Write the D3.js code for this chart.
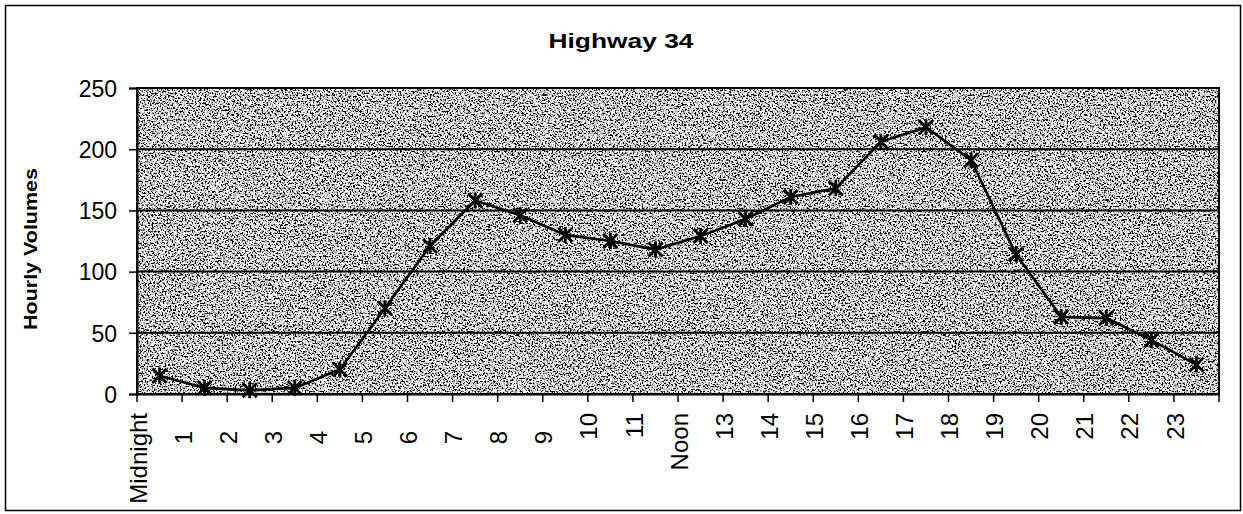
<!DOCTYPE html>
<html>
<head>
<meta charset="utf-8">
<script src="https://cdn.jsdelivr.net/npm/d3@7"></script>
<style>
  body { margin: 0; background: #fff; }
  text { font-family: "Liberation Sans", Arial, sans-serif; fill: #000; }
</style>
</head>
<body>
<div id="chart"></div>
<script>

// hour labels along the x axis
var hours = ["Midnight", "1", "2", "3", "4", "5", "6", "7", "8", "9", "10", "11",
             "Noon", "13", "14", "15", "16", "17", "18", "19", "20", "21", "22", "23"];

// hourly volumes
var volumes = [15, 5, 3, 5, 20, 70, 121, 158, 146, 130, 125, 118,
               129, 143, 161, 168, 206, 218, 191, 114, 63, 62, 44, 24];

var yTicks = [0, 50, 100, 150, 200, 250];

var chartTitle = "Highway 34";
var yTitle = "Hourly Volumes";


var W = 1243, H = 514;
var margin = { top: 88, right: 24, bottom: 120, left: 137 };
var width = W - margin.left - margin.right,
    height = H - margin.top - margin.bottom;

var svg = d3.select("#chart").append("svg")
    .attr("width", W)
    .attr("height", H);

// noisy grey fill like the scanned plot area
var defs = svg.append("defs");
var filt = defs.append("filter")
    .attr("id", "grain")
    .attr("x", 0).attr("y", 0).attr("width", 1).attr("height", 1);
filt.append("feTurbulence")
    .attr("type", "fractalNoise")
    .attr("baseFrequency", 0.6)
    .attr("numOctaves", 3)
    .attr("seed", 7);
filt.append("feColorMatrix")
    .attr("type", "matrix")
    .attr("values", "5 0 0 0 -1.88  5 0 0 0 -1.88  5 0 0 0 -1.88  0 0 0 0 1");

// outer frame
svg.append("rect")
    .attr("x", 5.5).attr("y", 5.5)
    .attr("width", 1235).attr("height", 505)
    .attr("fill", "none")
    .attr("stroke", "#000")
    .attr("stroke-width", 1.5);

var g = svg.append("g")
    .attr("transform", "translate(" + margin.left + "," + margin.top + ")");

// scales
var x = d3.scaleBand()
    .domain(hours)
    .range([0, width])
    .padding(0);

var y = d3.scaleLinear()
    .domain([0, 250])
    .range([height, 0]);

// plot background
g.append("rect")
    .attr("width", width)
    .attr("height", height)
    .attr("fill", "#999")
    .attr("filter", "url(#grain)");

// gridlines
g.selectAll(".grid")
    .data(yTicks.slice(1))
    .enter().append("line")
    .attr("class", "grid")
    .attr("x1", 0).attr("x2", width)
    .attr("y1", function(d) { return y(d); })
    .attr("y2", function(d) { return y(d); })
    .attr("stroke", "#000")
    .attr("stroke-width", 2);

// plot border
g.append("rect")
    .attr("width", width)
    .attr("height", height)
    .attr("fill", "none")
    .attr("stroke", "#000")
    .attr("stroke-width", 2);

// y axis
var yAxis = d3.axisLeft(y)
    .tickValues(yTicks)
    .tickSize(8)
    .tickPadding(12);

g.append("g")
    .attr("class", "y-axis")
    .call(yAxis)
    .call(function(s) {
        s.select(".domain").attr("stroke-width", 2);
        s.selectAll(".tick line").attr("stroke-width", 1.5);
        s.selectAll("text")
            .attr("font-size", 23)
            .attr("font-family", "Liberation Sans, Arial, sans-serif")
            .attr("dy", "0.36em");
    });

// x axis: ticks at category boundaries, labels sit on the left boundary
var xAxis = d3.axisBottom(x)
    .tickSize(0)
    .tickFormat("");

var xg = g.append("g")
    .attr("class", "x-axis")
    .attr("transform", "translate(0," + height + ")")
    .call(xAxis);
xg.select(".domain").attr("stroke-width", 2);

var bounds = hours.map(function(d) { return x(d); }).concat([width]);
xg.selectAll(".xtick")
    .data(bounds)
    .enter().append("line")
    .attr("class", "xtick")
    .attr("x1", function(d) { return d; })
    .attr("x2", function(d) { return d; })
    .attr("y1", 0).attr("y2", 8)
    .attr("stroke", "#000")
    .attr("stroke-width", 1.5);

xg.selectAll(".xlabel")
    .data(hours)
    .enter().append("text")
    .attr("class", "xlabel")
    .attr("font-size", 24)
    .attr("text-anchor", "end")
    .attr("dy", "0.36em")
    .attr("transform", function(d) {
        var top = d.length > 1 ? 19 : 37;
        return "translate(" + (x(d) + 1) + "," + top + ") rotate(-90)";
    })
    .text(function(d) { return d; });

// line + star markers
var line = d3.line()
    .x(function(d, i) { return x(hours[i]) + x.bandwidth() / 2; })
    .y(function(d) { return y(d); });

g.append("path")
    .datum(volumes)
    .attr("d", line)
    .attr("fill", "none")
    .attr("stroke", "#000")
    .attr("stroke-width", 2.6);

g.selectAll(".marker")
    .data(volumes)
    .enter().append("path")
    .attr("class", "marker")
    .attr("transform", function(d, i) {
        return "translate(" + (x(hours[i]) + x.bandwidth() / 2) + "," + y(d) + ")";
    })
    .attr("d", "M-7,-7L7,7M-7,7L7,-7M0,-8L0,8")
    .attr("stroke", "#000")
    .attr("stroke-width", 2.8)
    .attr("fill", "none");

// titles
svg.append("text")
    .attr("x", 621)
    .attr("y", 48)
    .attr("text-anchor", "middle")
    .attr("font-size", 21)
    .attr("font-weight", "bold")
    .attr("textLength", 145)
    .attr("lengthAdjust", "spacingAndGlyphs")
    .text(chartTitle);

svg.append("text")
    .attr("transform", "translate(37,249) rotate(-90)")
    .attr("text-anchor", "middle")
    .attr("font-size", 18)
    .attr("font-weight", "bold")
    .attr("textLength", 162)
    .attr("lengthAdjust", "spacingAndGlyphs")
    .text(yTitle);

</script>
</body>
</html>
